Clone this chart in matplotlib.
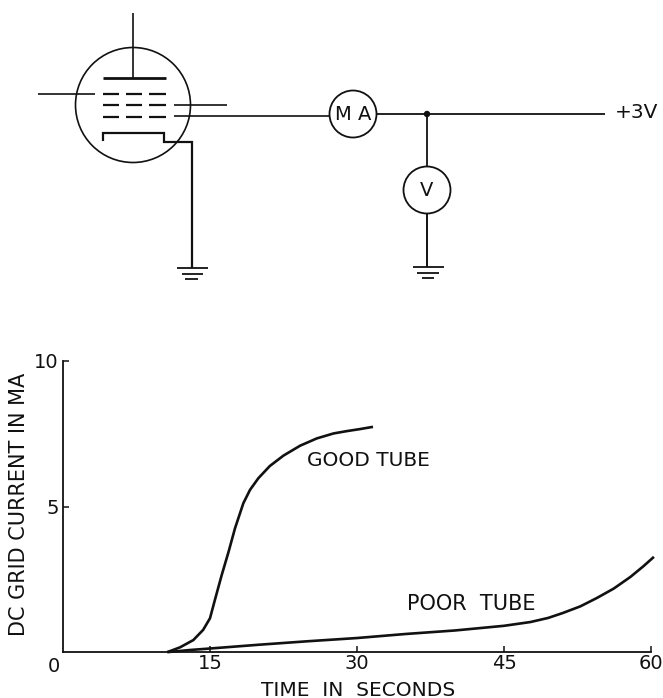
import matplotlib
matplotlib.use("Agg")
import matplotlib.pyplot as plt
from matplotlib.patches import Circle

W, H = 663, 698
plt.rcParams['font.family'] = ['DejaVu Sans']

good_t = [10.75, 11.94, 13.3, 14.3, 15.0, 15.5, 16.2, 16.9, 17.55, 18.4, 19.08, 19.93, 21.1, 22.5, 24.2, 25.9, 27.6, 28.95, 30.3, 31.5]
good_v = [0.01, 0.16, 0.41, 0.76, 1.16, 1.79, 2.65, 3.45, 4.25, 5.11, 5.57, 5.97, 6.39, 6.75, 7.09, 7.34, 7.51, 7.59, 7.66, 7.73]
poor_t = [10.8, 13.0, 15.0, 20.0, 25.0, 30.0, 35.0, 40.0, 45.0, 47.7, 49.5, 51.0, 52.8, 54.5, 56.2, 57.9, 59.2, 60.2]
poor_v = [0.0, 0.07, 0.12, 0.25, 0.37, 0.48, 0.62, 0.74, 0.9, 1.03, 1.17, 1.34, 1.57, 1.86, 2.18, 2.58, 2.94, 3.24]
x_ticks = [15, 30, 45, 60]
y_ticks = [5, 10]
x_label = "TIME  IN  SECONDS"
y_label = "DC GRID CURRENT IN MA"

fig = plt.figure(figsize=(W / 100, H / 100), dpi=100)
bg = fig.add_axes([0, 0, 1, 1])
bg.set_xlim(0, W)
bg.set_ylim(H, 0)
bg.axis("off")

K = "#111111"
def wire(xs, ys, lw=1.2):
    bg.plot(xs, ys, color=K, lw=lw, solid_capstyle="butt", solid_joinstyle="miter")

# tube envelope
bg.add_patch(Circle((133, 105), 57.5, fill=False, ec=K, lw=1.2))
wire([133, 133], [13, 78])
wire([103, 166], [78, 78], 2.0)
for y in (94, 105, 117):
    for x0, x1 in ((103, 119), (126, 142), (149, 166)):
        wire([x0, x1], [y, y], 1.6)
wire([38, 95], [94, 94])
wire([174, 227], [105, 105])
wire([174, 329], [116, 116])
wire([103, 103, 164, 164, 192, 192], [141, 133, 133, 141.5, 141.5, 268], 1.6)
for x0, x1, y in ((177, 208, 268), (182, 203, 274), (185, 198, 279)):
    wire([x0, x1], [y, y], 1.3)

# meters
bg.add_patch(Circle((353, 114), 23.5, fill=False, ec=K, lw=1.3))
bg.add_patch(Circle((427, 190), 23.5, fill=False, ec=K, lw=1.3))
wire([377, 605], [114, 114], 1.3)
bg.add_patch(Circle((427, 114), 3.2, fc=K, ec=K, lw=0))
wire([427, 427], [114, 167], 1.3)
wire([427, 427], [213, 267], 1.4)
for x0, x1, y in ((413, 444, 267), (417, 439, 273), (422, 434, 278)):
    wire([x0, x1], [y, y], 1.3)
fs = 14
bg.text(353, 114, "M A", ha="center", va="center", fontsize=fs, color=K)
bg.text(427, 190, "V", ha="center", va="center", fontsize=fs, color=K)
bg.text(615, 113, "+3V", ha="left", va="center", fontsize=14.5, color=K)

# chart
ax = fig.add_axes([63 / W, 1 - 652 / H, (651 - 63) / W, (652 - 361) / H])
ax.patch.set_alpha(0)
ax.set_xlim(0, 60)
ax.set_ylim(0, 10)
for s in ("top", "right"):
    ax.spines[s].set_visible(False)
for s in ("left", "bottom"):
    ax.spines[s].set_linewidth(1.3)
    ax.spines[s].set_color(K)
ax.plot(good_t, good_v, color=K, lw=1.9, clip_on=False)
ax.plot(poor_t, poor_v, color=K, lw=1.9, clip_on=False)
ax.set_xticks(x_ticks)
ax.set_yticks(y_ticks)
ax.tick_params(axis="both", direction="in", length=4.5, width=1.1, color=K, labelsize=fs, labelcolor=K, pad=3)
ax.tick_params(axis="x", pad=1.5)
ax.annotate("0", (0, 0), xytext=(-9, -14), textcoords="offset pixels", ha="center", va="center", fontsize=fs, color=K)
bg.text(368, 461, "GOOD TUBE", ha="center", va="center", fontsize=14.5, color=K)
bg.text(471, 604, "POOR  TUBE", ha="center", va="center", fontsize=15, color=K)
bg.text(358, 690, x_label, ha="center", va="center", fontsize=14.5, color=K)
bg.text(19, 504, y_label, ha="center", va="center", rotation=90, fontsize=15, color=K)

fig.savefig("out.png", dpi=100)
